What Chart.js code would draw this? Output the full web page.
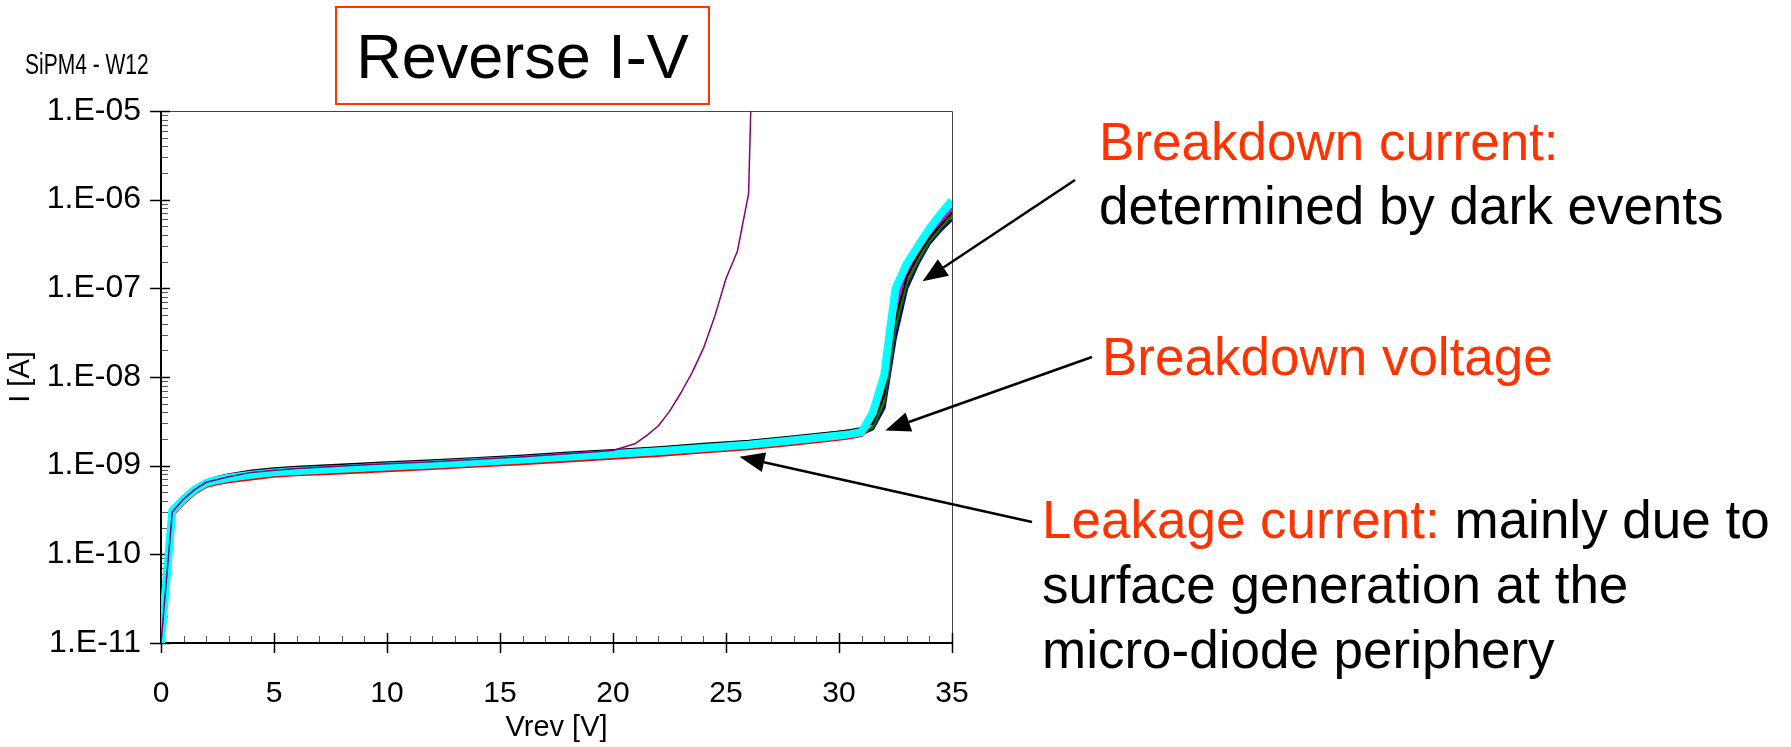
<!DOCTYPE html>
<html>
<head>
<meta charset="utf-8">
<title>Reverse I-V</title>
<script src="https://cdn.jsdelivr.net/npm/chart.js@4.4.1/dist/chart.umd.min.js"></script>
<style>
  html, body { margin: 0; padding: 0; background: #fff; }
  body { width: 1791px; height: 747px; position: relative; overflow: hidden;
         font-family: "Liberation Sans", Arial, sans-serif; }
  #iv { position: absolute; left: 0; top: 0; }
  .txt { position: absolute; white-space: nowrap; color: #000; }
  .red { color: #ff3300; }
  #sample { left: 25px; top: 53px; font-size: 21px; line-height: 21px;
            transform: scaleY(1.4); transform-origin: left center; }
  #title { left: 335px; top: 6px; width: 371px; height: 95px; border: 2px solid #ff3300;
           font-size: 63px; display: flex; align-items: center; justify-content: center; }
  #bdCurrent { left: 1099px; top: 110px; font-size: 53px; line-height: 64px; }
  #bdVoltage { left: 1102px; top: 325px; font-size: 53px; line-height: 64px; }
  #leakage { left: 1042px; top: 487px; font-size: 53px; line-height: 65px; }
</style>
</head>
<body>
<canvas id="iv" width="1791" height="747"></canvas>
<div class="txt" id="sample">SiPM4 - W12</div>
<div class="txt" id="title">Reverse I-V</div>
<div class="txt" id="bdCurrent"><span class="red">Breakdown current:</span><br>determined by dark events</div>
<div class="txt red" id="bdVoltage">Breakdown voltage</div>
<div class="txt" id="leakage"><span class="red">Leakage current:</span> mainly due to<br>surface generation at the<br>micro-diode periphery</div>
<script>
// reverse bias sweep (V)
const volts = [0, 0.5, 1, 1.5, 2, 2.5, 3, 4, 5, 6, 8, 10, 12, 14, 16, 18, 20, 22, 24, 26, 28, 30,
  30.5, 31, 31.5, 32, 32.5, 33, 33.5, 34, 34.5, 35];

// current (A) per device
const curCyan = [1.0e-11, 3.1e-10, 4.2e-10, 5.4e-10, 6.4e-10, 6.9e-10, 7.3e-10, 7.9e-10, 8.4e-10, 8.7e-10,
  9.2e-10, 9.8e-10, 1.03e-9, 1.10e-9, 1.17e-9, 1.26e-9, 1.35e-9, 1.45e-9, 1.58e-9, 1.72e-9, 1.93e-9, 2.19e-9,
  2.27e-9, 2.40e-9, 3.98e-9, 1.05e-8, 1.0e-7, 1.9e-7, 3.0e-7, 4.7e-7, 6.9e-7, 9.8e-7];
const curBlack = [1.0e-11, 3.2e-10, 4.4e-10, 5.7e-10, 6.8e-10, 7.5e-10, 8.0e-10, 8.8e-10, 9.3e-10, 9.7e-10,
  1.03e-9, 1.09e-9, 1.15e-9, 1.22e-9, 1.30e-9, 1.40e-9, 1.50e-9, 1.61e-9, 1.76e-9, 1.91e-9, 2.14e-9, 2.43e-9,
  2.52e-9, 2.66e-9, 3.0e-9, 6.3e-9, 4.6e-8, 1.35e-7, 2.35e-7, 3.7e-7, 5.2e-7, 7.2e-7];
const curMagenta = [1.0e-11, 3.0e-10, 4.3e-10, 5.5e-10, 6.6e-10, 7.2e-10, 7.6e-10, 8.3e-10, 8.8e-10, 9.2e-10,
  9.8e-10, 1.04e-9, 1.10e-9, 1.17e-9, 1.25e-9, 1.35e-9, 1.46e-9, 1.57e-9, 1.72e-9, 1.88e-9, 2.10e-9, 2.40e-9,
  2.49e-9, 2.62e-9, 3.2e-9, 7.8e-9, 6.0e-8, 1.55e-7, 2.6e-7, 4.0e-7, 5.6e-7, 7.8e-7];
const curPlum = [1.0e-11, 2.9e-10, 4.1e-10, 5.2e-10, 6.2e-10, 6.8e-10, 7.2e-10, 7.8e-10, 8.3e-10, 8.6e-10,
  9.1e-10, 9.7e-10, 1.02e-9, 1.09e-9, 1.16e-9, 1.25e-9, 1.34e-9, 1.44e-9, 1.57e-9, 1.71e-9, 1.92e-9, 2.18e-9,
  2.26e-9, 2.38e-9, 3.4e-9, 8.5e-9, 6.5e-8, 1.6e-7, 2.7e-7, 4.1e-7, 5.8e-7, 8.0e-7];
const curOrange = [1.0e-11, 3.0e-10, 4.1e-10, 5.3e-10, 6.3e-10, 6.8e-10, 7.2e-10, 7.8e-10, 8.3e-10, 8.6e-10,
  9.1e-10, 9.6e-10, 1.02e-9, 1.08e-9, 1.15e-9, 1.24e-9, 1.33e-9, 1.43e-9, 1.56e-9, 1.70e-9, 1.90e-9, 2.16e-9,
  2.24e-9, 2.36e-9, 3.1e-9, 7.2e-9, 5.4e-8, 1.45e-7, 2.5e-7, 3.9e-7, 5.5e-7, 7.6e-7];
const curGreen = [1.0e-11, 2.9e-10, 4.0e-10, 5.2e-10, 6.2e-10, 6.7e-10, 7.1e-10, 7.7e-10, 8.2e-10, 8.5e-10,
  9.0e-10, 9.5e-10, 1.01e-9, 1.07e-9, 1.14e-9, 1.23e-9, 1.32e-9, 1.42e-9, 1.55e-9, 1.69e-9, 1.89e-9, 2.15e-9,
  2.23e-9, 2.35e-9, 2.7e-9, 5.2e-9, 3.6e-8, 1.15e-7, 2.05e-7, 3.35e-7, 4.8e-7, 6.5e-7];
const curNavy = [1.0e-11, 2.85e-10, 3.95e-10, 5.1e-10, 6.1e-10, 6.55e-10, 6.95e-10, 7.5e-10, 8.0e-10, 8.3e-10,
  8.75e-10, 9.3e-10, 9.8e-10, 1.04e-9, 1.11e-9, 1.20e-9, 1.28e-9, 1.38e-9, 1.50e-9, 1.63e-9, 1.83e-9, 2.08e-9,
  2.15e-9, 2.28e-9, 2.6e-9, 4.5e-9, 2.8e-8, 1.0e-7, 1.9e-7, 3.2e-7, 4.5e-7, 6.0e-7];
const curRed = [1.0e-11, 2.7e-10, 3.7e-10, 4.8e-10, 5.75e-10, 6.2e-10, 6.5e-10, 7.0e-10, 7.5e-10, 7.8e-10,
  8.2e-10, 8.7e-10, 9.2e-10, 9.8e-10, 1.04e-9, 1.12e-9, 1.20e-9, 1.29e-9, 1.41e-9, 1.54e-9, 1.73e-9, 1.97e-9,
  2.04e-9, 2.16e-9, 2.8e-9, 5.8e-9, 4.2e-8, 1.28e-7, 2.25e-7, 3.55e-7, 5.0e-7, 6.9e-7];

// early breakdown device, finer steps
const purpleVolts = [0, 0.5, 1, 1.5, 2, 3, 4, 5, 6, 8, 10, 12, 14, 16, 18, 20, 20.5, 21, 21.5, 22, 22.5,
  23, 23.5, 24, 24.5, 25, 25.5, 26, 26.5];
const curPurple = [1.0e-11, 3.0e-10, 4.2e-10, 5.4e-10, 6.5e-10, 7.5e-10, 8.4e-10, 8.9e-10, 9.3e-10, 9.9e-10,
  1.05e-9, 1.11e-9, 1.18e-9, 1.26e-9, 1.36e-9, 1.48e-9, 1.62e-9, 1.78e-9, 2.2e-9, 2.8e-9, 4.1e-9, 6.6e-9,
  1.12e-8, 2.1e-8, 4.8e-8, 1.29e-7, 2.6e-7, 1.17e-6, 1.0e-1];

const yTickValues = [1e-11, 1e-10, 1e-9, 1e-8, 1e-7, 1e-6, 1e-5];
const yTickLabels = ["1.E-11", "1.E-10", "1.E-09", "1.E-08", "1.E-07", "1.E-06", "1.E-05"];

// arrow tips in data units, tails in page pixels (next to the notes)
const arrows = [
  { tip: [33.7, 1.2e-7], tail: [1075, 180] },
  { tip: [32.05, 2.5e-9], tail: [1092, 357] },
  { tip: [25.6, 1.26e-9], tail: [1032, 522] },
];

const toPoints = (xs, ys) => xs.map((v, i) => ({ x: v, y: ys[i] }));

const line = (label, xs, ys, color, width, order) => ({
  label,
  data: toPoints(xs, ys),
  borderColor: color,
  backgroundColor: color,
  borderWidth: width,
  pointRadius: 0,
  tension: 0,
  borderJoinStyle: "round",
  order,
});

const axesPlugin = {
  id: "axesPlugin",
  beforeDatasetsDraw(chart) {
    const { ctx, chartArea: a, scales } = chart;
    const x = scales.x, y = scales.y;
    ctx.save();

    // frame on top and right
    ctx.strokeStyle = "#444";
    ctx.lineWidth = 1;
    ctx.beginPath();
    ctx.moveTo(a.left, a.top + 0.5);
    ctx.lineTo(a.right + 0.5, a.top + 0.5);
    ctx.lineTo(a.right + 0.5, a.bottom);
    ctx.stroke();

    // minor ticks
    ctx.strokeStyle = "#555";
    ctx.beginPath();
    for (let i = 0; i < yTickValues.length - 1; i++) {
      for (let m = 2; m < 10; m++) {
        const py = Math.round(y.getPixelForValue(yTickValues[i] * m)) + 0.5;
        ctx.moveTo(a.left, py);
        ctx.lineTo(a.left + 7, py);
      }
    }
    for (let v = 1; v < 35; v++) {
      if (v % 5 === 0) continue;
      const px = Math.round(x.getPixelForValue(v)) + 0.5;
      ctx.moveTo(px, a.bottom);
      ctx.lineTo(px, a.bottom - 7);
    }
    ctx.stroke();

    // major ticks, crossing the axes
    ctx.strokeStyle = "#000";
    ctx.lineWidth = 1.5;
    ctx.beginPath();
    yTickValues.forEach((v) => {
      const py = Math.round(y.getPixelForValue(v)) + 0.5;
      ctx.moveTo(a.left - 11, py);
      ctx.lineTo(a.left + 9, py);
    });
    x.ticks.forEach((t) => {
      const px = Math.round(x.getPixelForValue(t.value)) + 0.5;
      ctx.moveTo(px, a.bottom - 10);
      ctx.lineTo(px, a.bottom + 10);
    });
    ctx.stroke();

    // axis lines
    ctx.lineWidth = 2;
    ctx.beginPath();
    ctx.moveTo(a.left, a.top);
    ctx.lineTo(a.left, a.bottom);
    ctx.lineTo(a.right, a.bottom);
    ctx.stroke();
    ctx.restore();
  },
};

const arrowPlugin = {
  id: "arrowPlugin",
  afterDatasetsDraw(chart) {
    const { ctx, scales } = chart;
    ctx.save();
    ctx.strokeStyle = "#000";
    ctx.fillStyle = "#000";
    ctx.lineWidth = 2.5;
    arrows.forEach(({ tip, tail }) => {
      const x1 = scales.x.getPixelForValue(tip[0]);
      const y1 = scales.y.getPixelForValue(tip[1]);
      const [x0, y0] = tail;
      const ang = Math.atan2(y1 - y0, x1 - x0);
      const headLen = 25, half = 10;
      const bx = x1 - headLen * Math.cos(ang);
      const by = y1 - headLen * Math.sin(ang);
      ctx.beginPath();
      ctx.moveTo(x0, y0);
      ctx.lineTo(bx, by);
      ctx.stroke();
      ctx.beginPath();
      ctx.moveTo(x1, y1);
      ctx.lineTo(bx + half * Math.sin(ang), by - half * Math.cos(ang));
      ctx.lineTo(bx - half * Math.sin(ang), by + half * Math.cos(ang));
      ctx.closePath();
      ctx.fill();
    });
    ctx.restore();
  },
};

const font = "'Liberation Sans', Arial, sans-serif";

new Chart(document.getElementById("iv"), {
  type: "line",
  data: {
    datasets: [
      line("W12-9", purpleVolts, curPurple, "#800080", 1.5, 0),
      line("W12-1", volts, curCyan, "#00ffff", 8, 1),
      line("W12-2", volts, curBlack, "#000000", 2.2, 2),
      line("W12-3", volts, curMagenta, "#ff00ff", 2.2, 3),
      line("W12-4", volts, curPlum, "#993366", 2.2, 4),
      line("W12-5", volts, curOrange, "#ff6600", 2.2, 5),
      line("W12-6", volts, curGreen, "#008000", 2.2, 6),
      line("W12-7", volts, curRed, "#ff0000", 2.2, 7),
      line("W12-8", volts, curNavy, "#000080", 3, 8),
    ],
  },
  options: {
    responsive: false,
    animation: false,
    layout: { padding: { top: 111, right: 839, left: 0, bottom: 0 } },
    plugins: { legend: { display: false }, tooltip: { enabled: false } },
    scales: {
      x: {
        type: "linear",
        min: 0,
        max: 35,
        grid: { display: false, drawTicks: false },
        border: { display: false },
        ticks: { stepSize: 5, padding: 33, color: "#000", maxRotation: 0,
                 font: { family: font, size: 30 } },
        title: { display: true, text: "Vrev [V]", color: "#000",
                 font: { family: font, size: 29 }, padding: { top: 0, bottom: 2 } },
        afterFit: (scale) => { scale.height = 104; },
      },
      y: {
        type: "logarithmic",
        min: 1e-11,
        max: 1e-5,
        grid: { display: false, drawTicks: false },
        border: { display: false },
        afterBuildTicks: (scale) => {
          scale.ticks = yTickValues.map((value) => ({ value }));
        },
        ticks: { padding: 20, color: "#000", font: { family: font, size: 32 },
                 callback: (value, index) => yTickLabels[index] },
        title: { display: true, text: "I [A]", color: "#000",
                 font: { family: font, size: 29 }, padding: { top: 4, bottom: 0 } },
        afterFit: (scale) => { scale.width = 161; },
      },
    },
  },
  plugins: [axesPlugin, arrowPlugin],
});
</script>
</body>
</html>
